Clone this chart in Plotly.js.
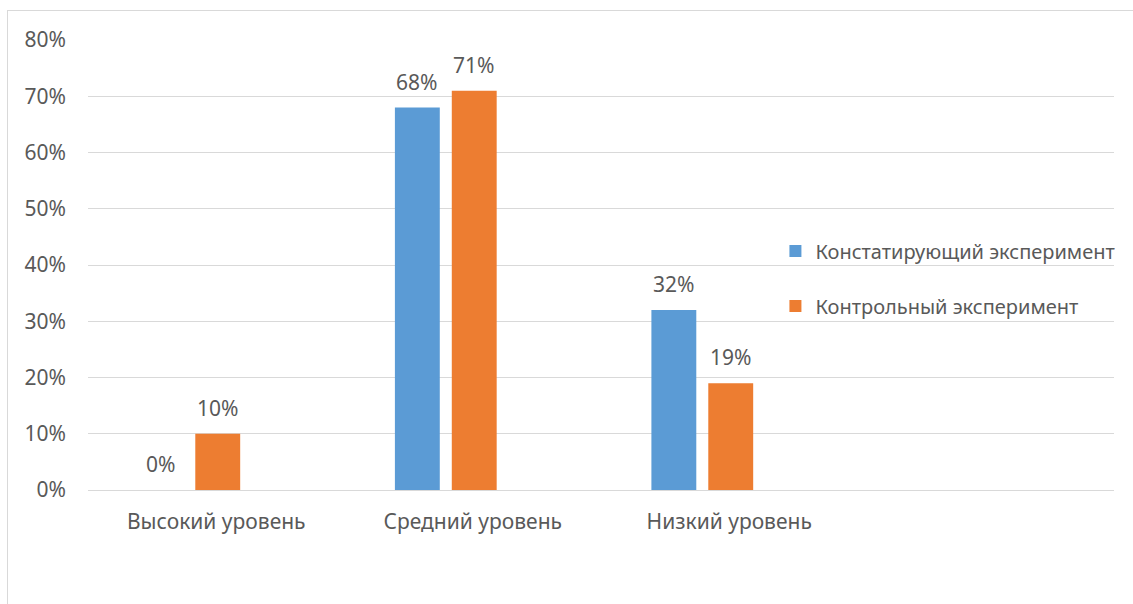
<!DOCTYPE html>
<html><head><meta charset="utf-8">
<script src="https://cdn.plot.ly/plotly-3.0.1.min.js"></script>
<style>
html,body{margin:0;padding:0;background:#fff;}
#frame{position:absolute;left:7px;top:10px;width:1140px;height:610px;border:1px solid #d9d9d9;box-sizing:border-box;pointer-events:none;}
#chart{position:absolute;left:0;top:0;width:1133px;height:604px;}
</style></head>
<body>
<div id="chart"></div>
<div id="frame"></div>
<script>
const categories = ["Высокий уровень", "Средний уровень", "Низкий уровень"];
const seriesNames = ["Констатирующий эксперимент", "Контрольный эксперимент"];
const constating = [0, 0.68, 0.32];
const control = [0.10, 0.71, 0.19];
const colors = ["#5b9bd5", "#ed7d31"];
const fontFam = "Noto Sans, Open Sans, sans-serif";
const txt = "#595959";
const FS = 21;

const fmt = v => Math.round(v*100) + "%";
const allSeries = [constating, control];
const offsets = [-0.3035, -0.0817];
const shifts = [-56, 1];
const traces = allSeries.map((vals, i) => ({
  type: "bar",
  name: seriesNames[i],
  x: categories,
  y: vals,
  marker: {color: colors[i]},
  width: 0.175,
  offset: offsets[i],
  legendgroup: "g" + i,
  hoverinfo: "none"
}));

const annotations = [];
allSeries.forEach((vals, i) => {
  vals.forEach((v, j) => {
    annotations.push({
      x: categories[j], y: v, xref: "x", yref: "y",
      text: fmt(v), showarrow: false,
      xshift: shifts[i], yshift: 26, yanchor: "middle", xanchor: "center",
      font: {family: fontFam, size: FS, color: txt}
    });
  });
});

const layout = {
  width: 1133, height: 604,
  margin: {l: 88, r: 19, t: 40, b: 114, autoexpand: false},
  paper_bgcolor: "rgba(0,0,0,0)",
  plot_bgcolor: "rgba(0,0,0,0)",
  font: {family: fontFam, size: FS, color: txt},
  showlegend: true,
  annotations: annotations,
  legend: {x: 0.67, y: 0.47, xanchor: "left", yanchor: "middle",
           font: {family: fontFam, size: 20, color: txt},
           tracegroupgap: 26, traceorder: "grouped", itemwidth: 30},
  xaxis: {type: "category", range: [-0.5, 3.5], showgrid: false, zeroline: false,
          showline: false, ticks: "", ticklabelstandoff: 17,
          tickfont: {family: fontFam, size: FS, color: txt}},
  yaxis: {range: [0, 0.8], dtick: 0.1, tickformat: ".0%", showgrid: true,
          gridcolor: "#d9d9d9", gridwidth: 1, zeroline: true, zerolinecolor: "#d9d9d9",
          zerolinewidth: 1, showline: false, ticks: "", ticklabelstandoff: 21,
          tickfont: {family: fontFam, size: FS, color: txt}}
};
Plotly.newPlot("chart", traces, layout, {staticPlot: true, displayModeBar: false});
</script>
</body></html>
